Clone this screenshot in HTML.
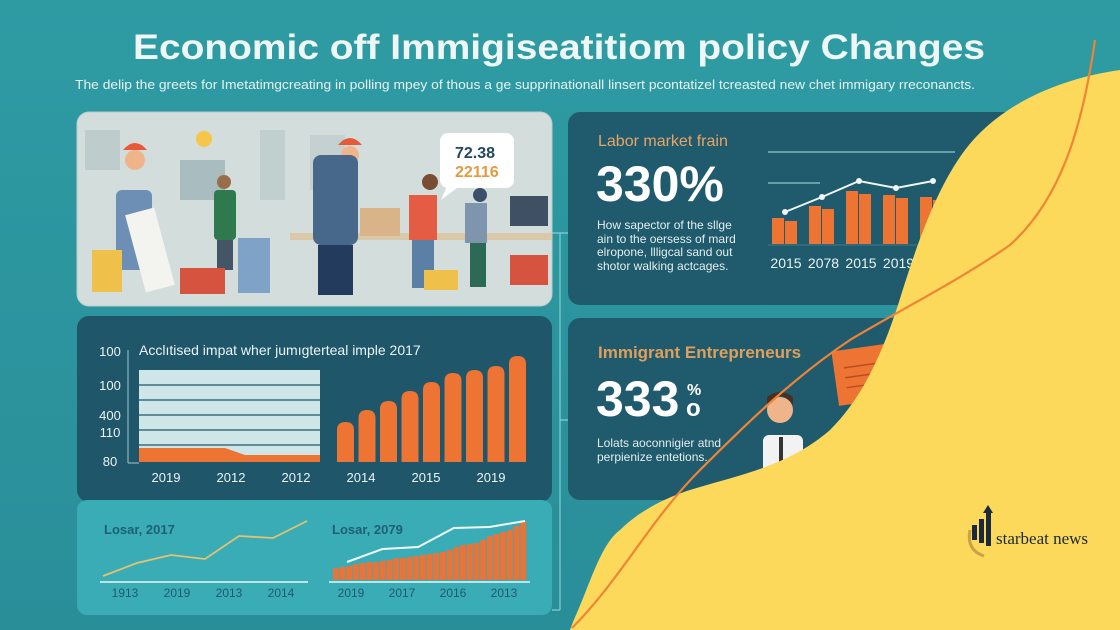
<!DOCTYPE html>
<html><head><meta charset="utf-8"><style>
html,body{margin:0;padding:0;width:1120px;height:630px;overflow:hidden;background:#2b959e;font-family:"Liberation Sans",sans-serif;}
svg{display:block}
</style></head><body>
<svg id="s" width="1120" height="630" viewBox="0 0 1120 630" xmlns="http://www.w3.org/2000/svg">
<defs><linearGradient id="bg" x1="0" y1="0" x2="0" y2="1"><stop offset="0" stop-color="#2e9ba3"/><stop offset="1" stop-color="#2a8e99"/></linearGradient></defs>
<rect width="1120" height="630" fill="url(#bg)"/>
<text x="559" y="59" text-anchor="middle" font-size="35" font-weight="bold" fill="#eef7f6" textLength="852" lengthAdjust="spacingAndGlyphs">Economic off Immigiseatitiom policy Changes</text>
<text x="525" y="89" text-anchor="middle" font-size="13" fill="#e6f3f2" textLength="900" lengthAdjust="spacingAndGlyphs">The delip the greets for Imetatimgcreating in polling mpey of thous a ge supprinationall linsert pcontatizel tcreasted new chet immigary rreconancts.</text>

<g stroke="#7fcfd3" stroke-width="1.2" fill="none">
<path d="M552 233 H568 M560 233 V610 M552 610 H560 M560 420 H568"/>
</g>

<g>
<rect x="77" y="112" width="475" height="194" rx="12" fill="#d2dddc" stroke="#b9cdcc"/>
<rect x="85" y="130" width="35" height="40" fill="#bfcccc"/><rect x="180" y="160" width="45" height="40" fill="#a9bcbf"/>
<rect x="260" y="130" width="25" height="70" fill="#c2cfcf"/><rect x="310" y="135" width="35" height="55" fill="#c5d0d0"/>
<rect x="290" y="233" width="262" height="7" fill="#d9c9a8"/>
<circle cx="204" cy="139" r="8" fill="#f6c64a"/>
<path d="M123 150 q12-14 24 0 z" fill="#e65a3a"/><circle cx="135" cy="160" r="10" fill="#f0b48a"/>
<rect x="116" y="190" width="36" height="80" rx="6" fill="#6d8fb5"/><rect x="135" y="210" width="30" height="80" fill="#f3f3f0" transform="rotate(-15 150 250)"/>
<rect x="92" y="250" width="30" height="42" fill="#f0c14a"/>
<circle cx="224" cy="182" r="7" fill="#9a6d4a"/><rect x="214" y="190" width="22" height="50" rx="4" fill="#2e7a4e"/><rect x="217" y="240" width="16" height="30" fill="#445566"/>
<rect x="180" y="268" width="45" height="26" fill="#d5533f"/><rect x="238" y="238" width="32" height="55" fill="#7ea3c6"/>
<path d="M338 145 q12-14 24 0 z" fill="#e65a3a"/><circle cx="350" cy="155" r="9" fill="#f0b48a"/>
<rect x="313" y="155" width="45" height="90" rx="8" fill="#47688a"/><rect x="318" y="245" width="35" height="50" fill="#233b5c"/>
<rect x="360" y="208" width="40" height="28" fill="#d9b489"/>
<circle cx="430" cy="182" r="8" fill="#7a4d33"/><rect x="409" y="195" width="28" height="45" fill="#e35c43"/><rect x="412" y="240" width="22" height="48" fill="#5b7fa5"/>
<rect x="424" y="270" width="34" height="20" fill="#f0c14a"/>
<circle cx="480" cy="195" r="7" fill="#3b4f6a"/><rect x="465" y="203" width="22" height="40" fill="#7f95ae"/><rect x="470" y="243" width="16" height="44" fill="#2c6a55"/>
<rect x="510" y="196" width="38" height="30" fill="#3f4f64"/><rect x="510" y="255" width="38" height="30" fill="#d5533f"/>
<rect x="440" y="133" width="74" height="55" rx="8" fill="#fff"/><path d="M447 186 l-6 14 l16-12z" fill="#fff"/>
<text x="455" y="158" font-size="16" font-weight="bold" fill="#24485a">72.38</text>
<text x="455" y="177" font-size="16" font-weight="bold" fill="#e59a3d">22116</text>
</g>

<rect x="77" y="316" width="475" height="186" rx="12" fill="#1f566a"/>
<rect x="77" y="500" width="475" height="115" rx="10" fill="#3aacb5"/>
<text x="139" y="355" font-size="14" fill="#eaf4f4">Acclıtised impat wher jumıgterteal imple 2017</text>
<g id="leftAxis"></g>
<line x1="128" y1="350" x2="128" y2="463" stroke="#9fc7cf" stroke-width="1"/><line x1="128" y1="463" x2="139" y2="463" stroke="#9fc7cf"/>
<rect x="139" y="370" width="181" height="92" fill="#cfe6e8"/>
<g id="grid1" stroke="#1f566a" stroke-width="1.3"></g>
<path d="M139 448 H225 L245 455 H320 V462 H139 Z" fill="#ee7434"/>
<g id="bars1"></g>
<g id="xl1"></g>

<text x="104" y="534" font-size="13" font-weight="bold" fill="#1f6072">Losar, 2017</text>
<line x1="100" y1="582" x2="308" y2="582" stroke="#e7f5f5" stroke-width="1.5"/>
<polyline id="line2" fill="none" stroke="#e3c372" stroke-width="1.8"/>
<g id="xl2"></g>
<text x="332" y="534" font-size="13" font-weight="bold" fill="#1f6072">Losar, 2079</text>
<line x1="329" y1="582" x2="530" y2="582" stroke="#e7f5f5" stroke-width="1.5"/>
<g id="bars3"></g>
<polyline id="line3" fill="none" stroke="#f2fbfb" stroke-width="2"/>
<g id="xl3"></g>

<rect x="568" y="112" width="560" height="193" rx="12" fill="#1f5a6d"/>
<rect x="568" y="318" width="560" height="182" rx="12" fill="#1f5a6d"/>
<text x="598" y="146" font-size="16" fill="#e8a566">Labor market frain</text>
<text x="596" y="201" font-size="50" font-weight="bold" fill="#ffffff">330%</text>
<g font-size="12" fill="#e3eeee">
<text x="597" y="229">How sapector of the sllge</text><text x="597" y="243">ain to the oersess of mard</text>
<text x="597" y="256">elropone, llligcal sand out</text><text x="597" y="270">shotor walking actcages.</text></g>
<line x1="768" y1="152" x2="955" y2="152" stroke="#8fc9cf" stroke-width="1.2"/>
<line x1="768" y1="183" x2="820" y2="183" stroke="#8fc9cf" stroke-width="1.2"/>
<line x1="768" y1="245" x2="960" y2="245" stroke="#3f7a8a" stroke-width="1"/>
<g id="bars4"></g>
<polyline id="line4" fill="none" stroke="#eef6f6" stroke-width="2"/>
<g id="xl4"></g>

<text x="598" y="358" font-size="17" font-weight="bold" fill="#e0a05c">Immigrant Entrepreneurs</text>
<text x="596" y="416" font-size="50" font-weight="bold" fill="#ffffff">333</text>
<text x="687" y="395" font-size="16" font-weight="bold" fill="#fff">%</text><text x="686" y="416" font-size="24" font-weight="bold" fill="#fff">o</text>
<text x="597" y="447" font-size="12" fill="#e3eeee">Lolats aoconnigier atnd</text>
<text x="597" y="461" font-size="12" fill="#e3eeee">perpienize entetions.</text>
<g transform="rotate(-8 865 375)"><rect x="835" y="347" width="70" height="55" fill="#ee7434"/><path d="M845 365h45M845 375h45M845 385h35" stroke="#b84e20" stroke-width="1.5"/></g>
<g><circle cx="780" cy="410" r="13" fill="#f0b48a"/><path d="M767 405 q13-18 26 0 v-8 q-13-10 -26 0z" fill="#4a2e22"/><rect x="763" y="435" width="40" height="40" rx="6" fill="#f2f2f2"/><rect x="779" y="437" width="4" height="28" fill="#333"/></g>

<path d="M570 630 L573 622 C590 585 600 545 620 530 C640 510 670 495 700 487 C740 475 790 465 830 430 C860 400 880 360 898 305 C915 250 935 190 965 150 C995 110 1050 80 1120 70 L1120 630 Z" fill="#fcd95b"/>
<path d="M572 628 C620 580 650 520 700 470 C740 430 790 380 850 340 C900 310 960 280 1010 245 C1060 200 1082 130 1095 40" fill="none" stroke="#ef8436" stroke-width="2.2"/>

<g>
<path d="M970 530 q-4 20 14 26" stroke="#c9a24a" stroke-width="3" fill="none"/>
<rect x="972" y="525" width="5" height="15" fill="#1a2a3a"/><rect x="979" y="519" width="5" height="24" fill="#1a2a3a"/><rect x="986" y="512" width="5" height="34" fill="#1a2a3a"/>
<path d="M983 513 l5-8 5 8z" fill="#1a2a3a"/>
<text x="996" y="544" font-family="Liberation Serif,serif" font-size="17" fill="#1a2a3a">starbeat news</text>
</g>
</svg>
<script>
const impactYears = ["2019","2012","2012","2014","2015","2019"];
const impactTicks = ["100","100","400","110","80"];
const impactBars = [40, 52, 61, 71, 80, 89, 92, 96, 106];
const losar17Labels = ["1913","2019","2013","2014"];
const losar17Values = [4, 17, 25, 21, 44, 42, 59];
const losar79Labels = ["2019","2017","2016","2013"];
const losar79Bars = [12,13,14,16,17,18,18,19,20,22,22,23,24,25,26,27,28,30,33,35,36,37,40,44,46,48,50,54,58];
const losar79Line = [20, 33, 35, 54, 55, 61];
const laborLabels = ["2015","2078","2015","2019"];
const laborBars = [26, 38, 53, 49, 47];
const laborLine = [32, 47, 63, 56, 63];

const NS="http://www.w3.org/2000/svg";
function mk(tag, attrs, parent){const e=document.createElementNS(NS,tag);for(const k in attrs)e.setAttribute(k,attrs[k]);parent.appendChild(e);return e;}
function txt(parent,x,y,s,size,fill,anchor){const t=mk('text',{x:x,y:y,'font-size':size,fill:fill,'text-anchor':anchor||'middle'},parent);t.textContent=s;return t;}

const y1=v=>462-v; const x1=i=>337+i*21.5;
const g1=document.getElementById('bars1');
impactBars.forEach((v,i)=>{const r=mk('path',{d:`M${x1(i)} 462 V${y1(v)+8} q0 -8 8.5 -8 q8.5 0 8.5 8 V462 Z`,fill:'#ee7434'},g1);

});
const gr=document.getElementById('grid1');
[385,400,415,430,445].forEach(y=>mk('line',{x1:139,x2:320,y1:y,y2:y},gr));
const ax=document.getElementById('leftAxis');
const tickY=[356,390,420,437,466];
impactTicks.forEach((s,i)=>{const t=txt(ax,110,tickY[i],s,13,'#eaf4f4');

});
const xl1=document.getElementById('xl1');
impactYears.forEach((s,i)=>{const t=txt(xl1,166+i*65,482,s,13,'#eaf4f4');

});

const x2=i=>103+i*(204/(losar17Values.length-1)); const y2=v=>580-v;
document.getElementById('line2').setAttribute('points',losar17Values.map((v,i)=>x2(i)+','+y2(v)).join(' '));
const xl2=document.getElementById('xl2');
losar17Labels.forEach((s,i)=>{const t=txt(xl2,125+i*52,597,s,12,'#1f5a6d');

});

const g3=document.getElementById('bars3');
const bw3=194/losar79Bars.length;
losar79Bars.forEach((v,i)=>{const r=mk('rect',{x:333+i*bw3,y:580-v,width:bw3-0.8,height:v,fill:'#e8743a'},g3);

});
const x3=i=>347+i*(178/(losar79Line.length-1)); const y3=v=>582-v;
document.getElementById('line3').setAttribute('points',losar79Line.map((v,i)=>x3(i)+','+y3(v)).join(' '));
const xl3=document.getElementById('xl3');
losar79Labels.forEach((s,i)=>{const t=txt(xl3,351+i*51,597,s,12,'#1f5a6d');

});

const g4=document.getElementById('bars4');
const x4=i=>772+i*37; const y4=v=>244-v;
laborBars.forEach((v,i)=>{[0,1].forEach(k=>{const r=mk('rect',{x:x4(i)+k*13,y:y4(v)+(k?3:0),width:12,height:v-(k?3:0),fill:'#ee7434'},g4);

});});
document.getElementById('line4').setAttribute('points',laborLine.map((v,i)=>(x4(i)+13)+','+y4(v)).join(' '));
laborLine.forEach((v,i)=>{const c=mk('circle',{cx:x4(i)+13,cy:y4(v),r:3,fill:'#eef6f6'},g4);

});
const xl4=document.getElementById('xl4');
laborLabels.forEach((s,i)=>{const t=txt(xl4,786+i*37.5,268,s,14,'#eaf4f4');

});
</script>
</body></html>
